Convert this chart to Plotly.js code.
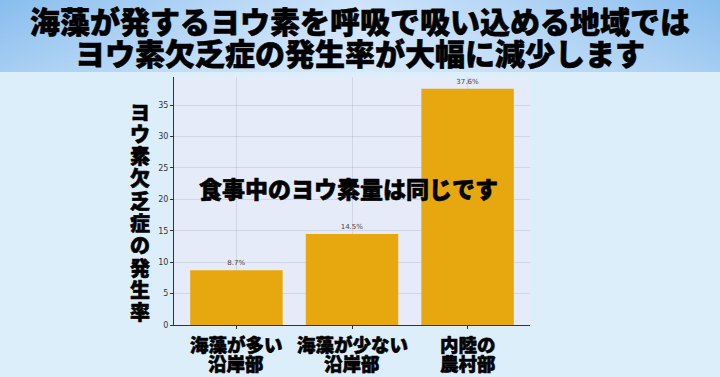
<!DOCTYPE html>
<html>
<head>
<meta charset="utf-8">
<script src="https://cdn.plot.ly/plotly-3.0.1.min.js"></script>
<style>
  html, body { margin: 0; padding: 0; width: 720px; height: 377px; overflow: hidden; background: #DDEEFB; }
  #wrap { position: relative; width: 720px; height: 377px; }
  #hdr { position: absolute; left: 0; top: 0; width: 720px; height: 72px;
         background: linear-gradient(90deg, #88BDEE 0%, #B5D6F6 30%, #CDE3FA 50%, #B5D6F6 70%, #88BDEE 100%); }
  #hdr2 { position: absolute; left: 0; top: 0; width: 720px; height: 72px;
         background: linear-gradient(180deg, rgba(255,255,255,0) 0%, rgba(255,255,255,0.25) 100%); }
  #chart { position: absolute; left: 0; top: 0; width: 720px; height: 377px; }
  #chart .gtitle, #chart .annotation-text { stroke: #000; stroke-width: 0.6px; stroke-linejoin: round; }
</style>
</head>
<body>
<div id="wrap"><div id="hdr"></div><div id="hdr2"></div><div id="chart"></div></div>
<script>
const titleLine1 = "海藻が発するヨウ素を呼吸で吸い込める地域では";
const titleLine2 = "ヨウ素欠乏症の発生率が大幅に減少します";
const categories = ["海藻が多い沿岸部", "海藻が少ない沿岸部", "内陸の農村部"];
const categoryLine1 = ["海藻が多い", "海藻が少ない", "内陸の"];
const categoryLine2 = ["沿岸部", "沿岸部", "農村部"];
const rates = [8.7, 14.5, 37.6];
const yTitleChars = ["ヨ","ウ","素","欠","乏","症","の","発","生","率"];
const noteText = "食事中のヨウ素量は同じです";
const yTicks = [0, 5, 10, 15, 20, 25, 30, 35];

const JP = '"Noto Sans CJK JP", "Noto Sans", sans-serif';

// plot area in pixels (for converting layout positions to paper coords)
const PL = 174, PR = 530, PT = 77, PB = 325;
const px2x = px => (px - PL) / (PR - PL);
const py2y = py => (PB - py) / (PB - PT);

const trace = {
  type: 'bar',
  x: categories,
  y: rates,
  width: 0.8,
  marker: { color: '#E6A80E', line: { width: 0 } },
  text: rates.map(v => v.toFixed(1) + '%'),
  textposition: 'outside',
  textfont: { family: 'DejaVu Sans, sans-serif', size: 7, color: '#444444' },
  cliponaxis: false,
  hoverinfo: 'none'
};

const annotations = [
  { text: titleLine2, xref: 'paper', yref: 'paper', x: px2x(360), y: py2y(52),
    xanchor: 'center', yanchor: 'middle', showarrow: false, borderpad: 0,
    font: { family: JP, size: 30, color: '#000000', weight: 900 } },
  { text: noteText, xref: 'x', yref: 'y', x: 0.97, y: 21.8,
    xanchor: 'center', yanchor: 'middle', showarrow: false,
    font: { family: JP, size: 23, color: '#000000', weight: 900 } }
];
yTitleChars.forEach((ch, i) => {
  annotations.push({
    text: ch, xref: 'paper', yref: 'paper',
    x: px2x(140), y: py2y(111 + i * 22.3),
    xanchor: 'center', yanchor: 'middle', showarrow: false, borderpad: 0,
    font: { family: JP, size: 20, color: '#000000', weight: 900 }
  });
});
categories.forEach((c, i) => {
  [categoryLine1[i], categoryLine2[i]].forEach((t, j) => {
    annotations.push({
      text: t, xref: 'x', yref: 'paper',
      x: c, y: py2y(j === 0 ? 344 : 363),
      xanchor: 'center', yanchor: 'middle', showarrow: false, borderpad: 0,
      font: { family: JP, size: 18.5, color: '#000000', weight: 900 }
    });
  });
});

const layout = {
  width: 720, height: 377,
  margin: { l: PL, r: 720 - PR, t: PT, b: 377 - PB },
  paper_bgcolor: 'rgba(0,0,0,0)',
  plot_bgcolor: '#E5EBF8',
  title: { text: titleLine1, x: 0.5, xref: 'container', xanchor: 'center',
           y: 1 - 22/377, yref: 'container', yanchor: 'middle',
           font: { family: JP, size: 30, color: '#000000', weight: 900 } },
  showlegend: false,
  bargap: 0.2,
  xaxis: {
    range: [-0.54, 2.54],
    showticklabels: false,
    showgrid: true, gridcolor: 'rgba(170,175,190,0.35)', gridwidth: 1,
    showline: true, linecolor: '#333333', linewidth: 1,
    ticks: 'outside', ticklen: 3, tickcolor: '#333333',
    fixedrange: true
  },
  yaxis: {
    range: [0, 39.48],
    tickvals: yTicks,
    showgrid: true, gridcolor: 'rgba(170,175,190,0.35)', gridwidth: 1,
    zeroline: false,
    showline: true, linecolor: '#333333', linewidth: 1,
    ticks: 'outside', ticklen: 3, tickcolor: '#333333',
    tickfont: { family: 'DejaVu Sans, sans-serif', size: 8, color: '#333333' },
    fixedrange: true
  },
  annotations: annotations
};

Plotly.newPlot('chart', [trace], layout, { displayModeBar: false, staticPlot: true });
</script>
</body>
</html>
